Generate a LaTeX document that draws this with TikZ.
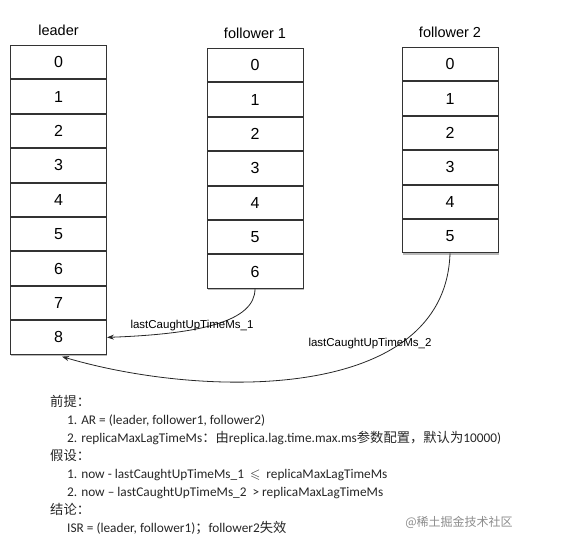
\documentclass[tikz,border=0pt]{standalone}
\usepackage{fontspec}
\usepackage{amssymb}
\setmainfont{Liberation Sans}
\newfontfamily\notefont{Carlito}
\newfontfamily\cjk{Noto Sans CJK SC}
\usetikzlibrary{arrows.meta,positioning,shadows}

\begin{document}
\begin{tikzpicture}[
  x=1pt, y=1pt, >={Stealth[length=7pt,width=5pt]},
  cell/.style={draw=black!80, line width=0.9pt, fill=white, minimum width=96.1pt, minimum height=33.5pt, inner sep=0pt,
    font=\fontsize{16}{16}\selectfont, drop shadow={shadow xshift=0.8pt, shadow yshift=-1.8pt, fill=black!50, opacity=0.55}},
  title/.style={font=\fontsize{14.5}{14.5}\selectfont},
  lagtag/.style={font=\fontsize{11.5}{11.5}\selectfont, inner sep=1pt},
  lag/.style={->, line width=0.8pt, black!85},
  notes/.style={font=\notefont\fontsize{13.3}{17.9}\selectfont, align=left, inner sep=0pt, text=black!85},
  wmark/.style={font=\cjk\fontsize{12}{12}\selectfont, text=black!45},
]
  \useasboundingbox (0,0) rectangle (570,544);
  % leader log
  \node[cell] (L0) at (58.5,481.8) {0};
  \foreach \i [evaluate=\i as \j using int(\i-1)] in {1,...,8}
    \node[cell, below=0pt of L\j] (L\i) {\i};
  \node[title, above=6pt of L0] (leader) {leader};
  % follower 1 log
  \node[cell] (F0) at (255,478.8) {0};
  \foreach \i [evaluate=\i as \j using int(\i-1)] in {1,...,6}
    \node[cell, below=0pt of F\j] (F\i) {\i};
  \node[title, above=6pt of F0] (fol1) {follower 1};
  % follower 2 log
  \node[cell] (G0) at (450,479.8) {0};
  \foreach \i [evaluate=\i as \j using int(\i-1)] in {1,...,5}
    \node[cell, below=0pt of G\j] (G\i) {\i};
  \node[title, above=6pt of G0] (fol2) {follower 2};
  % catch-up arrows
  \draw[lag] (F6.south) .. controls +(0,-33) and +(92,3.4) .. (L8.east);
  \draw[lag] (G5.south) .. controls +(-5,-151) and +(138,-41) .. ([xshift=3.5pt,yshift=-2pt]L8.south);
  \node[lagtag] (tag1) at (192,218) {lastCaughtUpTimeMs\_1};
  \node[lagtag] (tag2) at (370,200) {lastCaughtUpTimeMs\_2};
  % conditions
  \node[notes, anchor=north west] (cond) at (50,148.5) {%
    {\cjk 前提：}\\
    \hspace*{17pt}1. AR = (leader, follower1, follower2)\\
    \hspace*{17pt}2. replicaMaxLagTimeMs{\cjk ：由}replica.lag.time.max.ms{\cjk 参数配置，默认为}10000)\\
    {\cjk 假设：}\\
    \hspace*{17pt}1. now - lastCaughtUpTimeMs\_1\ \ $\leqslant$\ \ replicaMaxLagTimeMs\\
    \hspace*{17pt}2. now – lastCaughtUpTimeMs\_2\ \ > replicaMaxLagTimeMs\\
    {\cjk 结论：}\\
    \hspace*{17pt}ISR = (leader, follower1){\cjk ；}follower2{\cjk 失效}};
  \node[wmark] (wm) at (459,22) {@稀土掘金技术社区};
\end{tikzpicture}
\end{document}
